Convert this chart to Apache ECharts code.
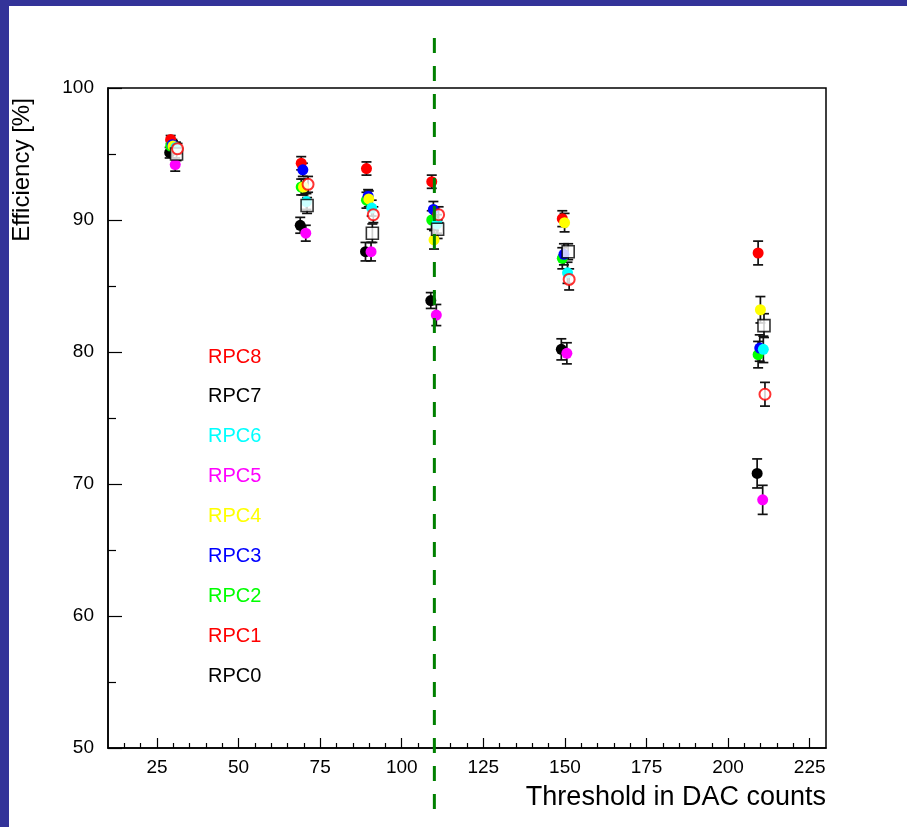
<!DOCTYPE html>
<html>
<head>
<meta charset="utf-8">
<script src="https://cdn.jsdelivr.net/npm/echarts@6/dist/echarts.min.js"></script>
<style>
  html, body { margin: 0; padding: 0; background: #fff; }
  #chart { width: 907px; height: 827px; }
</style>
</head>
<body>
<div id="chart"></div>
<script>
// thresholds (DAC counts) where every chamber was measured
const thresholds = [30, 70, 90, 110, 150, 210]
const xTicks = [25, 50, 75, 100, 125, 150, 175, 200, 225]
const xMinorTicks = [15, 20, 30, 35, 40, 45, 55, 60, 65, 70, 80, 85, 90, 95, 105, 110, 115, 120,
  130, 135, 140, 145, 155, 160, 165, 170, 180, 185, 190, 195, 205, 210, 215, 220]
const cutThreshold = 110

// efficiency [%] per chamber
const effRPC0 = [95.1, 89.6, 87.6, 83.9, 80.2, 70.8]
const effRPC1 = [96.1, 94.3, 93.9, 92.9, 90.1, 87.5]
const effRPC2 = [95.6, 92.5, 91.5, 90.0, 87.1, 79.8]
const effRPC3 = [95.7, 93.8, 91.8, 90.8, 87.4, 80.3]
const effRPC4 = [95.6, 92.5, 91.6, 88.5, 89.8, 83.2]
const effRPC5 = [94.2, 89.0, 87.6, 82.8, 79.9, 68.8]
const effRPC6 = [95.5, 91.4, 90.9, 89.7, 86.0, 80.2]
const effRPC7 = [95.0, 91.1, 89.0, 89.3, 87.6, 82.0]
const effRPC8 = [95.4, 92.7, 90.4, 90.4, 85.5, 76.8]

// statistical errors [%]
const errRPC0 = [0.4, 0.6, 0.7, 0.6, 0.8, 1.1]
const errRPC1 = [0.3, 0.5, 0.5, 0.5, 0.6, 0.9]
const errRPC2 = [0.4, 0.6, 0.6, 0.7, 0.8, 1.0]
const errRPC3 = [0.4, 0.5, 0.5, 0.6, 0.8, 1.0]
const errRPC4 = [0.4, 0.6, 0.6, 0.7, 0.7, 1.0]
const errRPC5 = [0.5, 0.6, 0.7, 0.8, 0.8, 1.1]
const errRPC6 = [0.4, 0.6, 0.6, 0.7, 0.8, 1.0]
const errRPC7 = [0.5, 0.6, 0.7, 0.7, 0.6, 0.9]
const errRPC8 = [0.4, 0.6, 0.6, 0.6, 0.8, 0.9]

const names = ['RPC0', 'RPC1', 'RPC2', 'RPC3', 'RPC4', 'RPC5', 'RPC6', 'RPC7', 'RPC8']
const effs = [effRPC0, effRPC1, effRPC2, effRPC3, effRPC4, effRPC5, effRPC6, effRPC7, effRPC8]
const errs = [errRPC0, errRPC1, errRPC2, errRPC3, errRPC4, errRPC5, errRPC6, errRPC7, errRPC8]

// drawing style per chamber (small horizontal shift so points don't hide each other)
const styles = [
  { color: '#000000', shift: -1.1, open: false, symbol: 'circle' },
  { color: '#ff0000', shift: -0.8, open: false, symbol: 'circle' },
  { color: '#00ff00', shift: -0.8, open: false, symbol: 'circle' },
  { color: '#0000ff', shift: -0.3, open: false, symbol: 'circle' },
  { color: '#ffff00', shift: -0.1, open: false, symbol: 'circle' },
  { color: '#ff00ff', shift: 0.6, open: false, symbol: 'circle' },
  { color: '#00ffff', shift: 0.8, open: false, symbol: 'circle' },
  { color: '#000000', shift: 1.0, open: true, symbol: 'rect' },
  { color: '#ff0000', shift: 1.3, open: true, symbol: 'circle' }
]

const font = "'Liberation Sans', Arial, Helvetica, sans-serif"
const chart = echarts.init(document.getElementById('chart'))

let series = []
names.forEach((name, i) => {
  const st = styles[i]
  const pts = thresholds.map((t, k) => [t + st.shift, effs[i][k], errs[i][k]])
  // error bars
  series.push({
    name: name + '_err',
    type: 'custom',
    xAxisIndex: 0,
    yAxisIndex: 0,
    z: 2,
    data: pts,
    renderItem(params, api) {
      const x = api.value(0)
      const y = api.value(1)
      const e = api.value(2)
      const top = api.coord([x, y + e])
      const bot = api.coord([x, y - e])
      const hw = 5
      const ls = { stroke: '#111', lineWidth: 1.7 }
      return {
        type: 'group',
        children: [
          { type: 'line', shape: { x1: top[0], y1: top[1], x2: bot[0], y2: bot[1] }, style: ls },
          { type: 'line', shape: { x1: top[0] - hw, y1: top[1], x2: top[0] + hw, y2: top[1] }, style: ls },
          { type: 'line', shape: { x1: bot[0] - hw, y1: bot[1], x2: bot[0] + hw, y2: bot[1] }, style: ls }
        ]
      }
    }
  })
  // markers
  series.push({
    name: name,
    type: 'scatter',
    xAxisIndex: 0,
    yAxisIndex: 0,
    z: 3,
    symbol: st.symbol,
    symbolSize: st.symbol === 'rect' ? 12 : 11,
    data: pts.map(p => [p[0], p[1]]),
    itemStyle: st.open
      ? { color: '#ffffff', borderColor: st.color, borderWidth: st.symbol === 'rect' ? 1.6 : 2 }
      : { color: st.color, opacity: 1 }
  })
})

let option = {
  animation: false,
  backgroundColor: '#ffffff',
  grid: {
    left: 108,
    top: 88,
    width: 718,
    height: 660,
    show: true,
    borderColor: '#000',
    borderWidth: 1.5,
    backgroundColor: 'transparent'
  },
  xAxis: [
    {
      type: 'value',
      min: 10,
      max: 230,
      position: 'bottom',
      axisLine: { show: true, lineStyle: { color: '#000', width: 1.5 } },
      axisTick: { show: true, inside: true, length: 10, customValues: xTicks, lineStyle: { color: '#000', width: 1.2 } },
      axisLabel: { show: true, customValues: xTicks, margin: 10, color: '#000', fontSize: 19, fontFamily: font },
      splitLine: { show: false }
    },
    {
      type: 'value',
      min: 10,
      max: 230,
      position: 'bottom',
      axisLine: { show: false },
      axisTick: { show: true, inside: true, length: 5, customValues: xMinorTicks, lineStyle: { color: '#000', width: 1.2 } },
      axisLabel: { show: false },
      splitLine: { show: false }
    }
  ],
  yAxis: {
    type: 'value',
    min: 50,
    max: 100,
    interval: 10,
    axisLine: { show: true, lineStyle: { color: '#000', width: 1.5 } },
    axisTick: { show: true, inside: true, length: 14, lineStyle: { color: '#000', width: 1.2 } },
    minorTick: { show: true, splitNumber: 2, length: 8, lineStyle: { color: '#000', width: 1.2 } },
    axisLabel: { color: '#000', fontSize: 19, margin: 14, fontFamily: font },
    splitLine: { show: false }
  },
  series: series
}

chart.setOption(option)

// graphics: frame bars, titles, colored names, cut line
const cutX = chart.convertToPixel({ xAxisIndex: 0 }, cutThreshold)
let graphics = [
  { type: 'rect', shape: { x: 0, y: 0, width: 9, height: 827 }, style: { fill: '#333399' }, z: 10 },
  { type: 'rect', shape: { x: 0, y: 0, width: 907, height: 6 }, style: { fill: '#333399' }, z: 10 },
  {
    type: 'text', x: 826, y: 798, z: 10,
    style: { text: 'Threshold in DAC counts', fill: '#000', font: '27px ' + font, textAlign: 'right', textVerticalAlign: 'middle' }
  },
  {
    type: 'text', x: 22, y: 170, rotation: Math.PI / 2, z: 10,
    style: { text: 'Efficiency [%]', fill: '#000', font: '24px ' + font, textAlign: 'center', textVerticalAlign: 'middle' }
  },
  {
    type: 'line', z: 20,
    shape: { x1: cutX, y1: 38, x2: cutX, y2: 811 },
    style: { stroke: '#008000', lineWidth: 3, lineDash: [15, 13] }
  }
]
// names listed top to bottom: RPC8 ... RPC0
for (let k = 0; k < names.length; k++) {
  const i = names.length - 1 - k
  graphics.push({
    type: 'text', x: 208, y: 357 + k * 39.9, z: 10,
    style: { text: names[i], fill: styles[i].color, font: '20px ' + font, textVerticalAlign: 'middle' }
  })
}
chart.setOption({ graphic: graphics })
</script>
</body>
</html>
